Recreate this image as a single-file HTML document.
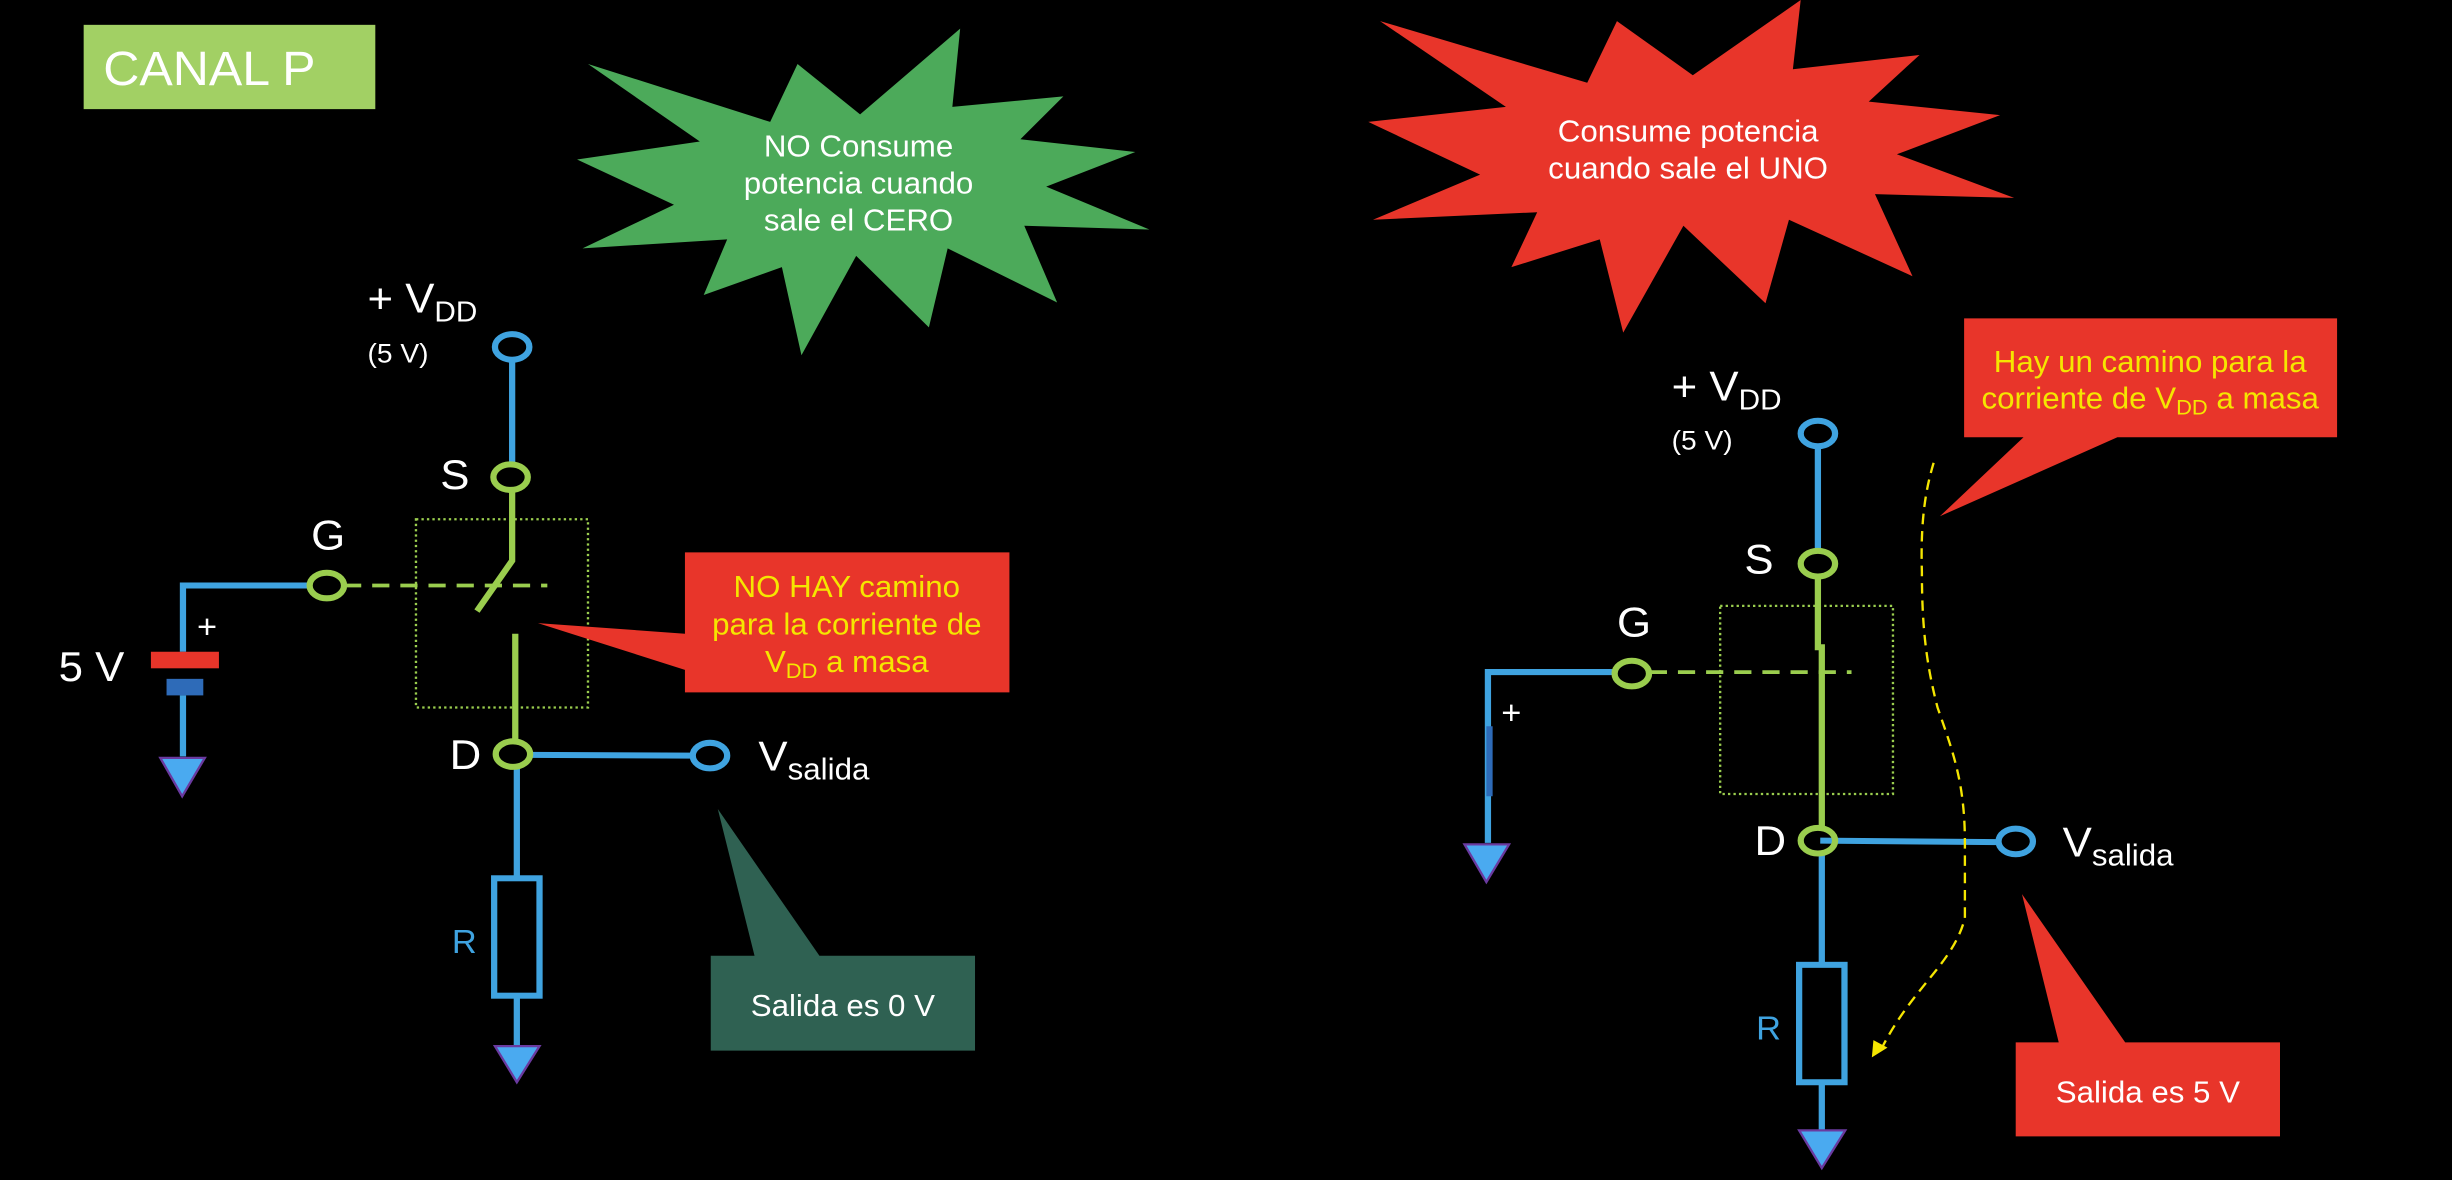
<!DOCTYPE html>
<html><head><meta charset="utf-8"><style>
html,body{margin:0;padding:0;background:#000;}
svg{display:block;}
text{font-family:"Liberation Sans",sans-serif;}
</style></head><body>
<svg width="2452" height="1180" viewBox="0 0 2452 1180" xmlns="http://www.w3.org/2000/svg">
<rect width="2452" height="1180" fill="#000"/>
<g transform="scale(0.7819,0.7526)">
  <rect x="107" y="33" width="373" height="112" fill="#a2d064"/>
  <text x="132" y="113" font-size="64" fill="#fff">CANAL P</text>
  <polygon fill="#4caa5a" points="752,85 985,162 1020,85 1100,152 1228,38 1218,142 1360,128 1305,185 1452,202 1338,248 1470,305 1310,300 1352,402 1212,330 1188,435 1095,340 1025,472 1000,355 900,392 930,318 745,330 862,272 738,212 895,188"/>
  <g font-size="40" fill="#fff" text-anchor="middle">
    <text x="1098" y="208">NO Consume</text>
    <text x="1098" y="257">potencia cuando</text>
    <text x="1098" y="306">sale el CERO</text>
  </g>
  <text x="470" y="415" font-size="56" fill="#fff">+ V<tspan font-size="38" dy="12">DD</tspan></text>
  <text x="470" y="482" font-size="36" fill="#fff">(5 V)</text>
  <g stroke="#3fa3e0" stroke-width="8" fill="none">
    <line x1="655" y1="478" x2="655" y2="615"/>
    <polyline points="395,778 234,778 234,866"/>
    <line x1="234" y1="924" x2="234" y2="1005"/>
    <line x1="676" y1="1003" x2="886" y2="1004"/>
    <line x1="661" y1="1020" x2="661" y2="1165"/>
    <rect x="632" y="1167" width="58" height="156"/>
    <line x1="661" y1="1325" x2="661" y2="1390"/>
    <ellipse cx="655" cy="461" rx="22" ry="17"/>
    <ellipse cx="908" cy="1004" rx="22" ry="17"/>
  </g>
  <g stroke="#9acd4e" stroke-width="8" fill="none">
    <polyline points="655,652 655,745 610,812"/>
    <line x1="659" y1="842" x2="659" y2="985"/>
    <line x1="440" y1="778" x2="700" y2="778" stroke-width="5" stroke-dasharray="22,14"/>
    <ellipse cx="653" cy="634" rx="22" ry="17"/>
    <ellipse cx="656" cy="1002" rx="22" ry="17"/>
    <ellipse cx="418" cy="778" rx="22" ry="17"/>
  </g>
  <rect x="532" y="690" width="220" height="250" fill="none" stroke="#9acd4e" stroke-width="3" stroke-dasharray="3,4"/>
  <text x="563" y="650" font-size="56" fill="#fff">S</text>
  <text x="398" y="730" font-size="56" fill="#fff">G</text>
  <text x="575" y="1022" font-size="56" fill="#fff">D</text>
  <text x="970" y="1024" font-size="56" fill="#fff">V<tspan font-size="40" dy="12">salida</tspan></text>
  <rect x="193" y="866" width="87" height="22" fill="#e8352a"/>
  <rect x="213" y="902" width="47" height="22" fill="#2e6bb8"/>
  <text x="252" y="848" font-size="44" fill="#fff">+</text>
  <text x="75" y="905" font-size="56" fill="#fff">5 V</text>
  <polygon points="205,1007 262,1007 233,1058" fill="#4aaaf0" stroke="#6a3aa0" stroke-width="3"/>
  <polygon points="633,1390 690,1390 661,1438" fill="#4aaaf0" stroke="#6a3aa0" stroke-width="3"/>
  <text x="578" y="1266" font-size="44" fill="#3fa3e0">R</text>
  <polygon fill="#e8352a" points="876,734 1291,734 1291,920 876,920 876,890 688,828 876,842"/>
  <g font-size="40" fill="#f5e600" text-anchor="middle">
    <text x="1083" y="793">NO HAY camino</text>
    <text x="1083" y="843">para la corriente de</text>
    <text x="1083" y="893">V<tspan font-size="28" dy="8">DD</tspan><tspan dy="-8">  a  masa</tspan></text>
  </g>
  <polygon fill="#2f6152" points="918,1075 1048,1270 1247,1270 1247,1396 909,1396 909,1270 965,1270"/>
  <text x="1078" y="1350" font-size="40" fill="#fff" text-anchor="middle">Salida es  0 V</text>
</g>
<g transform="translate(1226,0) scale(0.7819,0.7526)">
  <polygon fill="#e8352a" points="197,28 462,110 500,28 597,100 735,0 725,92 887,73 822,135 990,153 858,205 1008,263 830,258 878,367 720,292 690,403 585,300 508,442 478,318 365,355 398,282 188,292 325,232 182,162 358,142"/>
  <g font-size="40" fill="#fff" text-anchor="middle">
    <text x="591" y="188">Consume potencia</text>
    <text x="591" y="237">cuando sale el UNO</text>
  </g>
  <polygon fill="#e8352a" points="944,423 1421,423 1421,581 1140,581 913,686 1020,581 944,581"/>
  <g font-size="40" fill="#f5e600" text-anchor="middle">
    <text x="1182" y="494">Hay un camino para la</text>
    <text x="1182" y="543">corriente de V<tspan font-size="28" dy="8">DD</tspan><tspan dy="-8">  a masa</tspan></text>
  </g>
  <text x="570" y="532" font-size="56" fill="#fff">+ V<tspan font-size="38" dy="12">DD</tspan></text>
  <text x="570" y="597" font-size="36" fill="#fff">(5 V)</text>
  <g stroke="#3fa3e0" stroke-width="8" fill="none">
    <line x1="757" y1="593" x2="757" y2="732"/>
    <polyline points="497,893 335,893 335,1120"/>
    <line x1="760" y1="1117" x2="988" y2="1119"/>
    <line x1="762" y1="1135" x2="762" y2="1282"/>
    <rect x="733" y="1282" width="58" height="156"/>
    <line x1="762" y1="1440" x2="762" y2="1502"/>
    <ellipse cx="757" cy="576" rx="22" ry="17"/>
    <ellipse cx="1010" cy="1118" rx="22" ry="17"/>
  </g>
  <line x1="337" y1="965" x2="337" y2="1058" stroke="#2e6bb8" stroke-width="8"/>
  <g stroke="#9acd4e" stroke-width="8" fill="none">
    <polyline points="757,767 757,860 762,860 762,1100"/>
    <line x1="542" y1="893" x2="800" y2="893" stroke-width="5" stroke-dasharray="22,14"/>
    <ellipse cx="757" cy="749" rx="22" ry="17"/>
    <ellipse cx="757" cy="1117" rx="22" ry="17"/>
    <ellipse cx="519" cy="895" rx="22" ry="17"/>
  </g>
  <rect x="632" y="805" width="221" height="250" fill="none" stroke="#9acd4e" stroke-width="3" stroke-dasharray="3,4"/>
  <text x="663" y="762" font-size="56" fill="#fff">S</text>
  <text x="500" y="846" font-size="56" fill="#fff">G</text>
  <text x="676" y="1136" font-size="56" fill="#fff">D</text>
  <text x="1070" y="1138" font-size="56" fill="#fff">V<tspan font-size="40" dy="12">salida</tspan></text>
  <text x="352" y="962" font-size="44" fill="#fff">+</text>
  <polygon points="305,1122 362,1122 333,1172" fill="#4aaaf0" stroke="#6a3aa0" stroke-width="3"/>
  <polygon points="733,1502 792,1502 762,1552" fill="#4aaaf0" stroke="#6a3aa0" stroke-width="3"/>
  <text x="678" y="1381" font-size="44" fill="#3fa3e0">R</text>
  <path d="M905,615 C895,650 888,690 890,760 C890,830 895,880 910,940 C930,1000 945,1040 945,1120 L945,1220 C930,1280 880,1310 840,1390" fill="none" stroke="#f5e600" stroke-width="3" stroke-dasharray="14,9"/>
  <polygon points="826,1405 828,1382 846,1392" fill="#f5e600"/>
  <polygon fill="#e8352a" points="1018,1188 1150,1385 1348,1385 1348,1510 1010,1510 1010,1385 1065,1385"/>
  <text x="1179" y="1465" font-size="40" fill="#fff" text-anchor="middle">Salida es  5 V</text>
</g>
</svg>
</body></html>
